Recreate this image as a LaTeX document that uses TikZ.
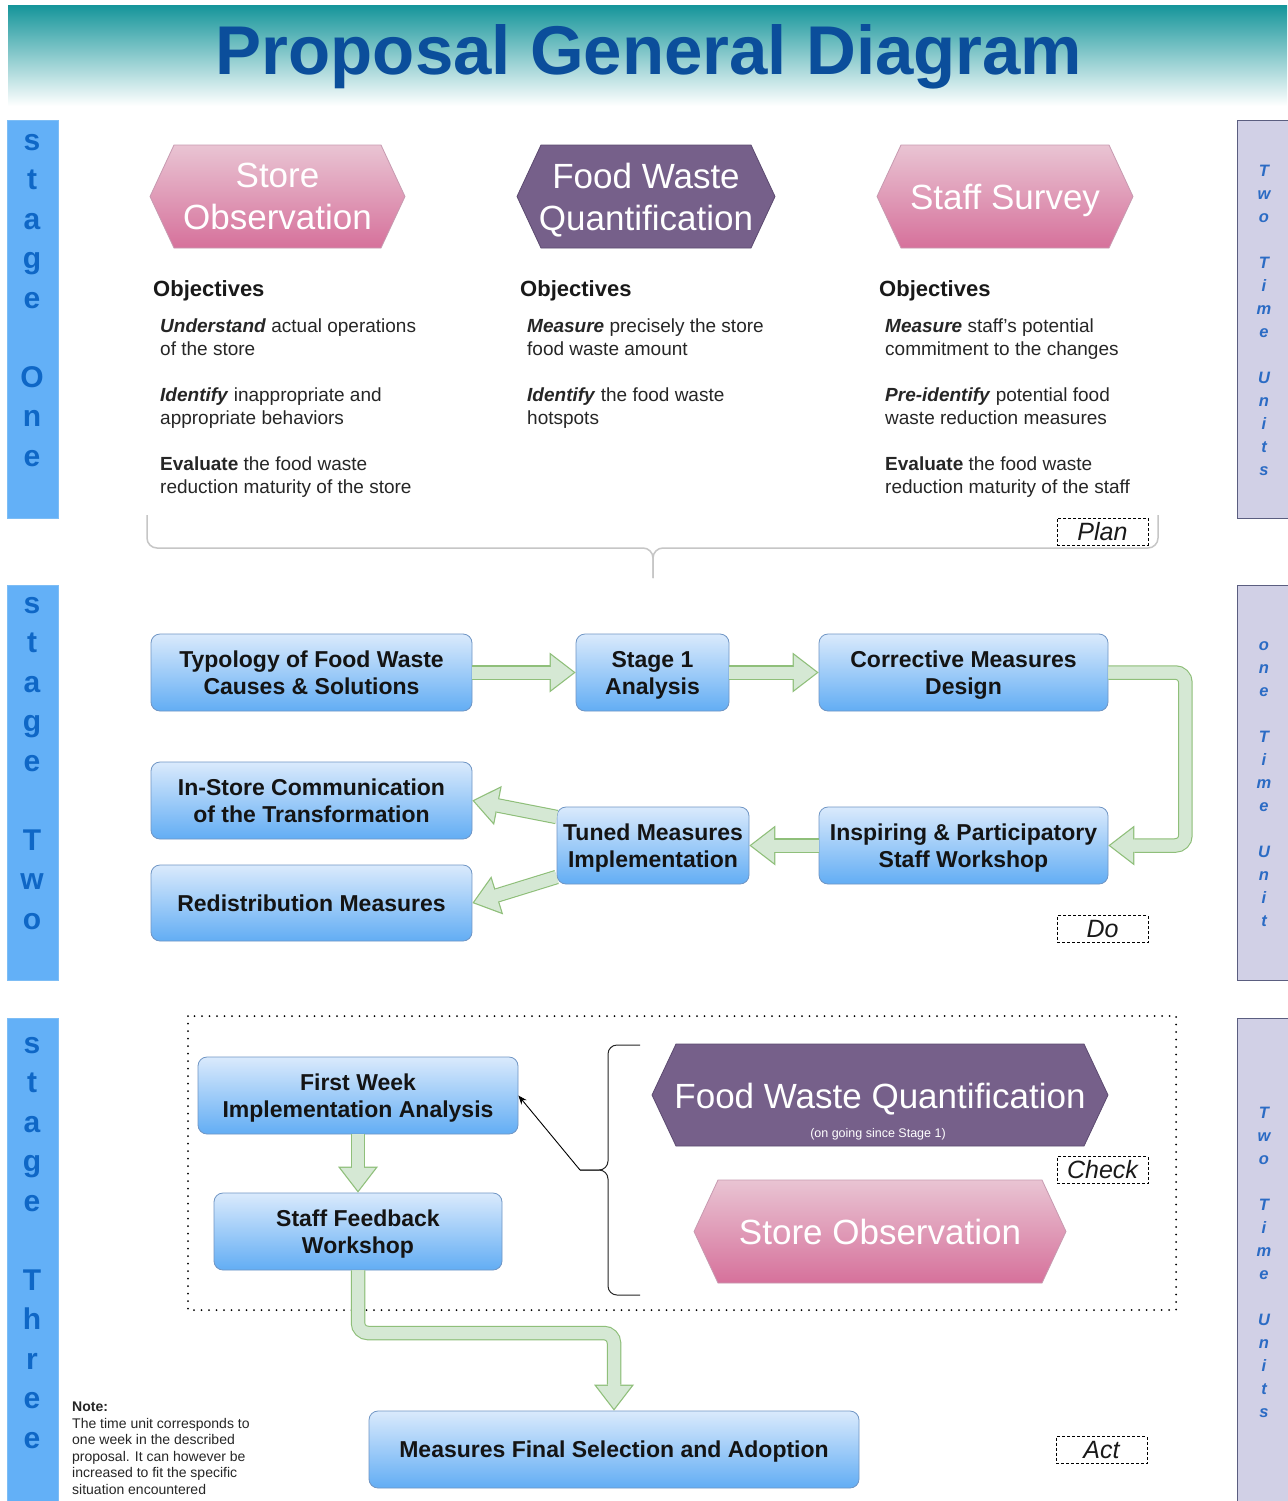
\documentclass[tikz,border=0pt]{standalone}
\usepackage{fontspec}
\setmainfont{Liberation Sans}
\usetikzlibrary{arrows.meta,calc}
\definecolor{boxtop}{HTML}{DAEAFC}
\definecolor{boxbot}{HTML}{62ADF4}
\definecolor{boxdraw}{HTML}{6F95C4}
\definecolor{gfill}{HTML}{D5E8D4}
\definecolor{gdraw}{HTML}{8FBF7A}
\definecolor{pinktop}{HTML}{E9C4D3}
\definecolor{pinkbot}{HTML}{D6719B}
\definecolor{pinkdraw}{HTML}{C79AB0}
\definecolor{purp}{HTML}{76608A}
\definecolor{purpdraw}{HTML}{5C4A70}
\definecolor{lbar}{HTML}{63B0F7}
\definecolor{lbardraw}{HTML}{7DBDF5}
\definecolor{ltext}{HTML}{0F67C6}
\definecolor{rbar}{HTML}{D1D0E6}
\definecolor{rbardraw}{HTML}{5B5E80}
\definecolor{rtext}{HTML}{2B6BC4}
\definecolor{titlec}{HTML}{0B4E9B}
\definecolor{titleband}{HTML}{17969B}
\definecolor{bracec}{HTML}{C6C6C6}
\newcommand\hexshape[5]{\path[#1] (#2,{(#4+#5)/2}) -- ({#2+24},#4) -- ({#3-24},#4) -- (#3,{(#4+#5)/2}) -- ({#3-24},#5) -- ({#2+24},#5) -- cycle;}
\begin{document}
\begin{tikzpicture}[x=1pt,y=-1pt,
  box/.style={draw=boxdraw, line width=0.8pt, rounded corners=9pt, top color=boxtop, bottom color=boxbot, align=center, font=\fontsize{23}{27}\selectfont\bfseries, text=black!92, inner sep=0pt, text depth=0pt},
  hexpink/.style={draw=pinkdraw, line width=0.8pt, top color=pinktop, bottom color=pinkbot},
  hexpurp/.style={draw=purpdraw, line width=0.8pt, fill=purp},
  hextext/.style={text=white, align=center, font=\fontsize{35}{42}\selectfont, inner sep=0pt, text depth=0pt},
  objh/.style={anchor=base west, font=\fontsize{22}{26}\selectfont\bfseries, inner sep=0pt, text=black!90},
  objt/.style={anchor=north west, align=left, inner sep=0pt, font=\fontsize{19}{23}\selectfont, text=black!85},
  lab/.style={draw, dash pattern=on 3pt off 2pt, line width=0.7pt, minimum width=91pt, minimum height=27pt, inner sep=0pt, font=\fontsize{25}{30}\selectfont\itshape, text=black!90},
  lstl/.style={anchor=base, font=\fontsize{30}{36}\selectfont\bfseries, text=ltext, inner sep=0pt},
  rstl/.style={anchor=base, font=\fontsize{16.5}{19}\selectfont\bfseries\itshape, text=rtext, inner sep=0pt},
  garrow/.style={draw=gfill, line width=12pt, shorten >=20pt,
    preaction={draw=gdraw, line width=14.5pt, shorten >=0pt, -{Triangle[width=40pt,length=26pt,line width=0pt]}},
    preaction={draw=gfill, line width=12pt, shorten >=2pt, -{Triangle[width=35pt,length=22.8pt,line width=0pt]}}},
  brc/.style={draw=black!85, line width=1pt, rounded corners=9pt},
]
\useasboundingbox (0,0) rectangle (1287,1501);
\fill[white] (0,0) rectangle (1287,1501);
% title band
\shade[top color=titleband, bottom color=white] (8,6) rectangle (1287,106);
\node[anchor=base, font=\fontsize{69}{80}\selectfont\bfseries, text=titlec] (title) at (649,75) {Proposal General Diagram};

% left stage bars
\draw[fill=lbar, draw=lbardraw] (7,120) rectangle (58,518);
\draw[fill=lbar, draw=lbardraw] (7,585) rectangle (58,980);
\draw[fill=lbar, draw=lbardraw] (7,1018) rectangle (58,1510);
\foreach \l [count=\i from 0] in {s,t,a,g,e,{},O,n,e} \node[lstl] (la\i) at (32,{150+39.5*\i}) {\l};
\foreach \l [count=\i from 0] in {s,t,a,g,e,{},T,w,o} \node[lstl] (lb\i) at (32,{613+39.5*\i}) {\l};
\foreach \l [count=\i from 0] in {s,t,a,g,e,{},T,h,r,e,e} \node[lstl] (lc\i) at (32,{1053+39.5*\i}) {\l};

% right bars
\draw[fill=rbar, draw=rbardraw, line width=0.8pt] (1237,120) rectangle (1292,518);
\draw[fill=rbar, draw=rbardraw, line width=0.8pt] (1237,585) rectangle (1292,980);
\draw[fill=rbar, draw=rbardraw, line width=0.8pt] (1237,1018) rectangle (1292,1510);
\foreach \l [count=\i from 0] in {T,w,o,{},T,i,m,e,{},U,n,i,t,s} \node[rstl] (ra\i) at (1264,{176+23*\i}) {\l};
\foreach \l [count=\i from 0] in {o,n,e,{},T,i,m,e,{},U,n,i,t} \node[rstl] (rb\i) at (1264,{650+23*\i}) {\l};
\foreach \l [count=\i from 0] in {T,w,o,{},T,i,m,e,{},U,n,i,t,s} \node[rstl] (rc\i) at (1264,{1118+23*\i}) {\l};

% stage one hexagons
\hexshape{hexpink}{150}{405}{145}{248}
\hexshape{hexpurp}{517}{775}{145}{248}
\hexshape{hexpink}{877}{1133}{145}{248}
\node[hextext] (hso) at (277.5,196.5) {Store\\Observation};
\node[hextext] (hfw) at (646,196.5) {Food Waste\\Quantification};
\node[hextext] (hss) at (1005,196.5) {Staff Survey};

% objectives
\node[objh] (oh1) at (153,296) {Objectives};
\node[objh] (oh2) at (520,296) {Objectives};
\node[objh] (oh3) at (879,296) {Objectives};
\node[objt] (o11) at (160,319) {\textbf{\textit{Understand}} actual operations\\of the store};
\node[objt] (o12) at (160,388) {\textbf{\textit{Identify}} inappropriate and\\appropriate behaviors};
\node[objt] (o13) at (160,457) {\textbf{Evaluate} the food waste\\reduction maturity of the store};
\node[objt] (o21) at (527,319) {\textbf{\textit{Measure}} precisely the store\\food waste amount};
\node[objt] (o22) at (527,388) {\textbf{\textit{Identify}} the food waste\\hotspots};
\node[objt] (o31) at (885,319) {\textbf{\textit{Measure}} staff's potential\\commitment to the changes};
\node[objt] (o32) at (885,388) {\textbf{\textit{Pre-identify}} potential food\\waste reduction measures};
\node[objt] (o33) at (885,457) {\textbf{Evaluate} the food waste\\reduction maturity of the staff};

% plan brace
\draw[bracec, line width=1.5pt, rounded corners=10pt] (147,515) -- (147,548) -- (653,548) -- (653,578);
\draw[bracec, line width=1.5pt, rounded corners=10pt] (1158,515) -- (1158,548) -- (653,548) -- (653,578);
\node[lab] (plan) at (1102.5,531.5) {Plan};

% stage two boxes
\node[box, minimum width=321pt, minimum height=77pt] (typ) at (311.5,672.5) {Typology of Food Waste\\Causes \& Solutions};
\node[box, minimum width=153pt, minimum height=77pt] (st1) at (652.5,672.5) {Stage 1\\Analysis};
\node[box, minimum width=289pt, minimum height=77pt] (cor) at (963.5,672.5) {Corrective Measures\\Design};
\node[box, minimum width=321pt, minimum height=77pt] (ins) at (311.5,800.5) {In-Store Communication\\of the Transformation};
\node[box, minimum width=192pt, minimum height=77pt] (tun) at (653,845.5) {Tuned Measures\\Implementation};
\node[box, minimum width=289pt, minimum height=77pt] (insp) at (963.5,845.5) {Inspiring \& Participatory\\Staff Workshop};
\node[box, minimum width=321pt, minimum height=76pt] (red) at (311.5,903) {Redistribution Measures};
\node[lab] (do) at (1102.5,929) {Do};

\draw[garrow] (typ.east) -- (st1.west);
\draw[garrow] (st1.east) -- (cor.west);
\draw[garrow, rounded corners=10pt] (cor.east) -- ++(77,0) |- (insp.east);
\draw[garrow] (insp.west) -- (tun.east);
\draw[garrow] ([yshift=28.5pt]tun.west) -- (ins.east);
\draw[garrow] ([yshift=-31.5pt]tun.west) -- (red.east);

% stage three
\draw[line width=2pt, dash pattern=on 0pt off 7.5pt, line cap=round] (188,1016) rectangle (1176,1310);
\node[box, minimum width=320pt, minimum height=77pt] (fw) at (358,1095.5) {First Week\\Implementation Analysis};
\node[box, minimum width=288pt, minimum height=77pt] (sf) at (358,1231.5) {Staff Feedback\\Workshop};
\node[box, minimum width=490pt, minimum height=77pt] (mf) at (614,1449.5) {Measures Final Selection and Adoption};
\coordinate (bend) at (614,1333);
\draw[garrow] (fw.south) -- (sf.north);
\draw[garrow, rounded corners=10pt] (sf.south) |- (bend) -- (mf.north);

\hexshape{hexpurp}{652}{1108}{1044}{1146}
\hexshape{hexpink}{694}{1066}{1180}{1283}
\node[hextext] (fwq) at (880,1096) {Food Waste Quantification};
\node[font=\fontsize{12.5}{15}\selectfont, text=white, inner sep=0pt] (fwqs) at (878,1134) {(on going since Stage 1)};
\node[hextext] (so) at (880,1232) {Store Observation};
\node[lab] (check) at (1102.5,1170) {Check};

\coordinate (bt) at (580,1170);
\draw[brc] (640,1045) -- (608,1045) -- (608,1170) -- (bt);
\draw[brc] (bt) -- (608,1170) -- (608,1295) -- (640,1295);
\draw[line width=0.9pt, -{Stealth[length=9pt,width=7pt]}] (bt) -- (fw.east);

\node[lab] (act) at (1101.5,1450) {Act};

\node[anchor=north west, align=left, inner sep=0pt, font=\fontsize{14}{16.5}\selectfont, text=black!85] (note) at (72,1402) {\textbf{Note:}\\The time unit corresponds to\\one week in the described\\proposal. It can however be\\increased to fit the specific\\situation encountered};
\end{tikzpicture}
\end{document}
